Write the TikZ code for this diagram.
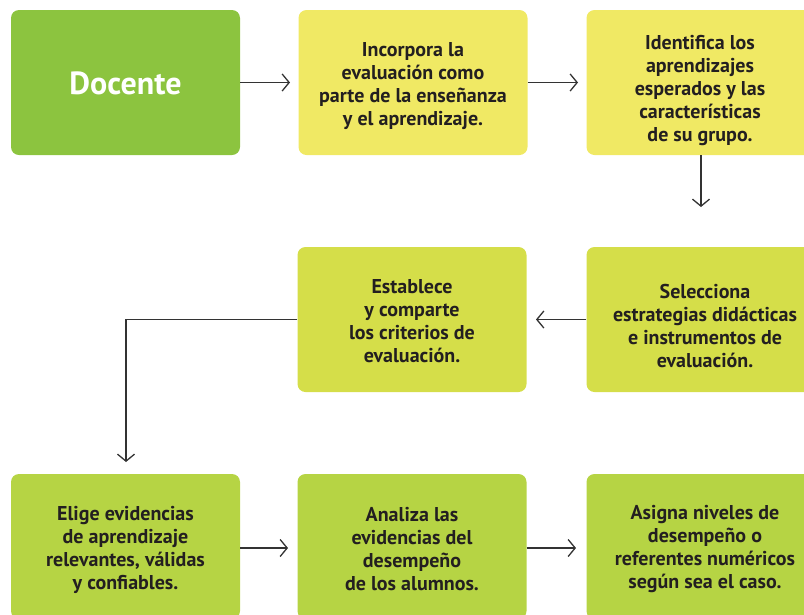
\documentclass[tikz,border=0pt]{standalone}
\usepackage{fontspec}
\setmainfont{PT Sans}
\usetikzlibrary{arrows.meta}
\definecolor{cgreen}{HTML}{8CC43F}
\definecolor{cyellow}{HTML}{F0E964}
\definecolor{clime}{HTML}{D5DE49}
\definecolor{cleaf}{HTML}{B6D444}
\definecolor{ctext}{HTML}{231F20}
\definecolor{cline}{HTML}{333333}
\tikzset{
  boxnode/.style={rounded corners=8pt, minimum width=229pt, minimum height=145pt, inner sep=0pt},
  txt/.style={align=center, text=ctext, inner sep=0pt, font=\fontsize{20}{23}\selectfont\bfseries},
  conn/.style={draw=cline, line width=1.5pt, -{Straight Barb[length=7pt,width=17pt,line width=1.3pt]}}
}
\begin{document}
\begin{tikzpicture}[x=1pt,y=-1pt]
\useasboundingbox (0,0) rectangle (804,614);
\clip (0,0) rectangle (804,614);
\node[boxnode, fill=cgreen] (d) at (125.5,82.5) {};
\node[boxnode, fill=cyellow] (b2) at (413,82.5) {};
\node[boxnode, fill=cyellow] (b3) at (701,82.5) {};
\node[boxnode, fill=clime] (b4) at (701,319.5) {};
\node[boxnode, fill=clime] (b5) at (412,319.5) {};
\node[boxnode, fill=cleaf] (b6) at (125.5,546.5) {};
\node[boxnode, fill=cleaf] (b7) at (412,546.5) {};
\node[boxnode, fill=cleaf] (b8) at (701,546.5) {};
\node[txt, text=white, font=\fontsize{32}{34}\selectfont\bfseries] (td) at ([yshift=-1pt]d.center) {Docente};
\node[txt] (t2) at ([yshift=-4pt]b2.center) {Incorpora la\\evaluación como\\parte de la enseñanza\\y el aprendizaje.};
\node[txt] (t3) at ([xshift=-1pt,yshift=-8pt]b3.center) {Identifica los\\aprendizajes\\esperados y las\\características\\de su grupo.};
\node[txt] (t4) at ([xshift=4pt,yshift=-6pt]b4.center) {Selecciona\\estrategias didácticas\\e instrumentos de\\evaluación.};
\node[txt] (t5) at ([yshift=-2pt]b5.center) {Establece\\y comparte\\los criterios de\\evaluación.};
\node[txt] (t6) at ([yshift=-3pt]b6.center) {Elige evidencias\\de aprendizaje\\relevantes, válidas\\y confiables.};
\node[txt] (t7) at ([yshift=-3pt]b7.center) {Analiza las\\evidencias del\\desempeño\\de los alumnos.};
\node[txt] (t8) at ([xshift=4pt,yshift=-3pt]b8.center) {Asigna niveles de\\desempeño o\\referentes numéricos\\según sea el caso.};
\coordinate (a1) at (290,82.5);
\coordinate (a2) at (578,82.5);
\coordinate (a3) at (701,207);
\coordinate (a4) at (536,319.5);
\coordinate (c5) at (126,319.5);
\coordinate (a5) at (126,462);
\coordinate (a6) at (288,548);
\coordinate (a7) at (576,548);
\draw[conn] (d.east) -- (a1);
\draw[conn] (b2.east) -- (a2);
\draw[conn] (b3.south) -- (a3);
\draw[conn] (b4.west) -- (a4);
\draw[conn] (b5.west) -- (c5) -- (a5);
\draw[conn] (b6.east |- a6) -- (a6);
\draw[conn] (b7.east |- a7) -- (a7);
\end{tikzpicture}
\end{document}
